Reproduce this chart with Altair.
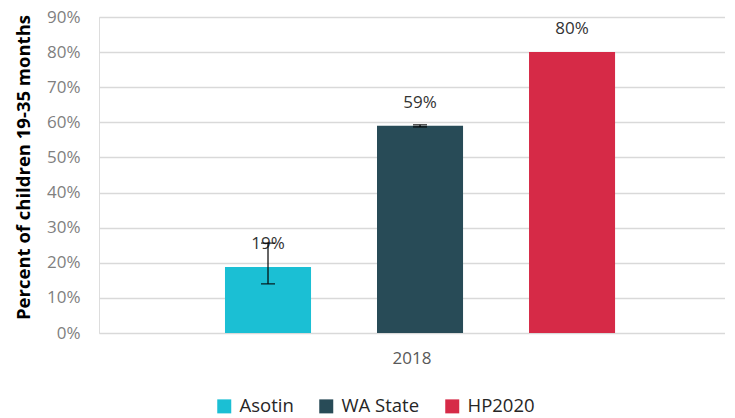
import altair as alt
import pandas as pd

series = ["Asotin", "WA State", "HP2020"]
years = ["2018", "2018", "2018"]
values = [0.188, 0.59, 0.80]
labels = ["19%", "59%", "80%"]
err_lo = [0.14, 0.587, None]
err_hi = [0.256, 0.593, None]
colors = ["#1BBFD4", "#284B57", "#D62A47"]
ticks = [0, 0.1, 0.2, 0.3, 0.4, 0.5, 0.6, 0.7, 0.8, 0.9]

df = pd.DataFrame({"year": years, "series": series, "value": values,
                   "label": labels, "lo": err_lo, "hi": err_hi})

FONT = "Open Sans"

x = alt.X("year:N", title=None,
          scale=alt.Scale(paddingInner=0, paddingOuter=0),
          axis=alt.Axis(labelAngle=0, labelFontSize=17, labelColor="#595959",
                        labelFont=FONT, ticks=False, domain=False, labelPadding=17))
xo = alt.XOffset("series:N", sort=series,
                 scale=alt.Scale(domain=series, paddingInner=0.434,
                                 paddingOuter=0.776, align=0.534))
yscale = alt.Scale(domain=[0, 0.9], nice=False)
yaxis = alt.Axis(format=".0%", values=ticks,
                 labelFontSize=17, labelColor="#7f7f7f", labelFont=FONT,
                 labelOverlap=False,
                 ticks=False, domain=False, labelPadding=19,
                 titleFont=FONT, titleFontSize=18.5, titleFontWeight="bold",
                 titleColor="#000000", titlePadding=13, titleY=150,
                 gridColor="#d9d9d9", gridWidth=1.5)
TITLE = "Percent of children 19-35 months"


def yenc(field):
    return alt.Y(field, title=TITLE, scale=yscale, axis=yaxis)


bars = alt.Chart(df).mark_bar().encode(
    x=x, xOffset=xo, y=yenc("value:Q"),
    color=alt.Color("series:N", sort=series,
                    scale=alt.Scale(domain=series, range=colors),
                    legend=alt.Legend(title=None, orient="none", direction="horizontal",
                                      legendX=116, legendY=380,
                                      symbolType="square", symbolSize=196,
                                      symbolStrokeWidth=0, labelFontSize=18.5,
                                      labelFont=FONT, labelColor="#262626",
                                      labelOffset=6, columnPadding=23)),
)

text = alt.Chart(df).mark_text(dy=-23, fontSize=17, font=FONT, color="#333333").encode(
    x=x, xOffset=xo, y=yenc("value:Q"), text="label:N")

err_df = df.dropna(subset=["lo"])
rule = alt.Chart(err_df).mark_rule(color="#000000", strokeWidth=1.2).encode(
    x=x, xOffset=xo, y=yenc("lo:Q"), y2="hi:Q")
cap_lo = alt.Chart(err_df).mark_tick(color="#000000", thickness=1.5, size=14).encode(
    x=x, xOffset=xo, y=yenc("lo:Q"))
cap_hi = alt.Chart(err_df).mark_tick(color="#000000", thickness=1.5, size=14).encode(
    x=x, xOffset=xo, y=yenc("hi:Q"))

chart = (bars + text + rule + cap_lo + cap_hi).properties(
    width=626, height=316
).configure_view(stroke=None).configure(
    font=FONT, padding={"left": 6, "top": 0, "right": 0, "bottom": 0})

chart.save("out.html", embed_options={"renderer": "svg", "actions": False})
